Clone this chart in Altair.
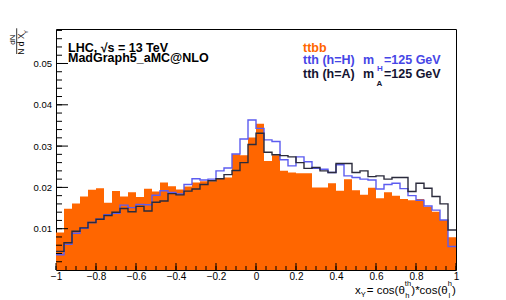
import altair as alt
import pandas as pd

# ---------------- data ----------------
x_low = -1.0
x_high = 1.0
bin_width = 0.04

ttbb = [0.0091, 0.0148, 0.0161, 0.0178, 0.0194, 0.0198, 0.0163, 0.0191, 0.0178, 0.0188,
        0.0177, 0.0197, 0.0190, 0.0212, 0.0203, 0.0195, 0.0202, 0.0212, 0.0215, 0.0215,
        0.0222, 0.0224, 0.0280, 0.0278, 0.0321, 0.0354, 0.0264, 0.0278, 0.0240, 0.0236,
        0.0234, 0.0234, 0.0200, 0.0200, 0.0210, 0.0192, 0.0220, 0.0193, 0.0182, 0.0199,
        0.0174, 0.0188, 0.0180, 0.0172, 0.0169, 0.0172, 0.0153, 0.0141, 0.0121, 0.0079]

tth_H = [0.0037, 0.0062, 0.0089, 0.0101, 0.0115, 0.0123, 0.0134, 0.0137, 0.0157, 0.0151,
         0.0159, 0.0158, 0.0181, 0.0192, 0.0188, 0.0184, 0.0207, 0.0221, 0.0218, 0.0220,
         0.0240, 0.0247, 0.0281, 0.0317, 0.0363, 0.0343, 0.0315, 0.0311, 0.0267, 0.0252,
         0.0274, 0.0262, 0.0246, 0.0244, 0.0236, 0.0255, 0.0228, 0.0224, 0.0220, 0.0218,
         0.0196, 0.0207, 0.0210, 0.0197, 0.0180, 0.0169, 0.0155, 0.0145, 0.0121, 0.0057]

tth_A = [0.0045, 0.0066, 0.0094, 0.0102, 0.0115, 0.0123, 0.0132, 0.0140, 0.0149, 0.0141,
         0.0154, 0.0143, 0.0164, 0.0167, 0.0185, 0.0182, 0.0191, 0.0196, 0.0207, 0.0216,
         0.0221, 0.0231, 0.0241, 0.0260, 0.0304, 0.0331, 0.0285, 0.0279, 0.0277, 0.0274,
         0.0260, 0.0246, 0.0248, 0.0240, 0.0236, 0.0258, 0.0258, 0.0236, 0.0240, 0.0226,
         0.0228, 0.0220, 0.0224, 0.0224, 0.0190, 0.0210, 0.0198, 0.0178, 0.0160, 0.0097]

x_tick_labels = [-1, -0.8, -0.6, -0.4, -0.2, 0, 0.2, 0.4, 0.6, 0.8, 1]
y_tick_labels = [0.01, 0.02, 0.03, 0.04, 0.05]
x_minor = [round(-1 + 0.05 * i, 3) for i in range(41)]
y_minor = [round(0.002 * i, 3) for i in range(1, 30)]

y_max = 0.05835

# ---------------- tables ----------------
n = len(ttbb)
edges = [round(x_low + i * bin_width, 4) for i in range(n + 1)]


def steps(vals):
    return pd.DataFrame({"x": edges, "y": list(vals) + [vals[-1]]})


FONT = "Liberation Sans"
W, H = 400, 241

xs = alt.Scale(domain=[x_low, x_high], nice=False, zero=False)
ys = alt.Scale(domain=[0, y_max], nice=False, zero=True)

x_axis = alt.Axis(values=x_tick_labels, format="~g", title=None, grid=False, ticks=False,
                  domain=False, labelFontSize=10, labelPadding=1, labelFlush=False,
                  labelFont=FONT, labelColor="#000000")
y_axis = alt.Axis(values=y_tick_labels, format=".2f", title=None, grid=False, ticks=False,
                  domain=False, labelFontSize=9.5, labelPadding=4.5,
                  labelFont=FONT, labelColor="#000000")


def X(field):
    return alt.X(field, scale=xs, axis=x_axis, title=None)


def Y(field):
    return alt.Y(field, scale=ys, axis=y_axis, title=None)


orange = alt.Chart(steps(ttbb)).mark_area(
    interpolate="step-after", color="#ff6600", opacity=1
).encode(x=X("x:Q"), y=Y("y:Q"))


def outline(vals, color):
    return alt.Chart(steps(vals)).mark_line(
        interpolate="step-after", color=color, strokeWidth=1.4
    ).encode(x=X("x:Q"), y=Y("y:Q"))


blue_line = outline(tth_H, "#5c5cf0")
black_line = outline(tth_A, "#2b2b3c")

# inward ROOT-style ticks
major_x = alt.Chart(pd.DataFrame({"v": x_tick_labels})).mark_rule(color="black", strokeWidth=1).encode(
    x=X("v:Q"), y=alt.value(H), y2=alt.value(H - 7))
minor_x = alt.Chart(pd.DataFrame({"v": x_minor})).mark_rule(color="black", strokeWidth=1).encode(
    x=X("v:Q"), y=alt.value(H), y2=alt.value(H - 4))
major_y = alt.Chart(pd.DataFrame({"v": y_tick_labels})).mark_rule(color="black", strokeWidth=1).encode(
    y=Y("v:Q"), x=alt.value(0), x2=alt.value(12))
minor_y = alt.Chart(pd.DataFrame({"v": y_minor})).mark_rule(color="black", strokeWidth=1).encode(
    y=Y("v:Q"), x=alt.value(0), x2=alt.value(6))

dummy = pd.DataFrame({"d": [0]})


def label(text, x, y, size, color="#000000", weight="normal", align="left",
          baseline="alphabetic", angle=None):
    kw = dict(text=text, fontSize=size, fontWeight=weight, color=color, align=align,
              baseline=baseline, font=FONT)
    if angle is not None:
        kw["angle"] = angle
    return alt.Chart(dummy).mark_text(**kw).encode(x=alt.value(x), y=alt.value(y))


NB = "\u00a0"
texts = [
    # top-left annotation
    label("LHC, √s = 13 TeV", 12, 22.5, 12.5, weight="bold"),
    label("MadGraph5_aMC@NLO", 12, 33, 12.5, weight="bold"),
    # legend
    label("ttbb", 247, 22.7, 12.5, color="#ff6600", weight="bold"),
    label("tth (h=H)", 247, 34.5, 12.5, color="#4646e6", weight="bold"),
    label("m", 307, 34.5, 12.5, color="#4646e6", weight="bold"),
    label("H", 324, 41.7, 8, color="#4646e6", weight="bold", align="center"),
    label("=125 GeV", 328, 34.5, 12.5, color="#4646e6", weight="bold"),
    label("tth (h=A)", 247, 49.3, 12.5, color="#141432", weight="bold"),
    label("m", 307, 49.3, 12.5, color="#141432", weight="bold"),
    label("A", 323.5, 57, 8, color="#141432", weight="bold", align="center"),
    label("=125 GeV", 328, 49.3, 12.5, color="#141432", weight="bold"),
    # y axis title (rotated fraction)
    label("dN", -43.2, 10.7, 8, align="center", baseline="middle", angle=270),
    label("N d X", -35, 15, 8.5, align="center", baseline="middle", angle=270),
    label("Y", -30, 3, 6, align="center", baseline="middle", angle=270),
    # x axis title
    label("x", 299, 265, 11.5),
    label("Y", 304.8, 267.5, 7.5),
    label("=" + NB + "cos(θ", 310.8, 265, 11.5),
    label("th", 348.8, 256.5, 7.5),
    label("h", 349.3, 268.5, 7.5),
    label(")*cos(θ", 355.3, 265, 11.5),
    label("h", 391.7, 256.5, 7.5),
    label("l", 392.5, 268.5, 7.5),
    label(")", 396, 265, 11.5),
]

frac_line = alt.Chart(dummy).mark_rule(color="#000000", strokeWidth=0.8).encode(
    x=alt.value(-39.3), y=alt.value(-0.7), y2=alt.value(25))

chart = alt.layer(
    orange, blue_line, black_line, minor_x, major_x, minor_y, major_y, frac_line, *texts
).properties(
    width=W, height=H,
    autosize=alt.AutoSizeParams(type="none"),
    padding={"left": 48, "top": 21, "right": 42, "bottom": 30},
    background="white",
).configure_view(stroke="black", strokeWidth=1)

chart.save("out.html", embed_options={"renderer": "svg", "actions": False})
